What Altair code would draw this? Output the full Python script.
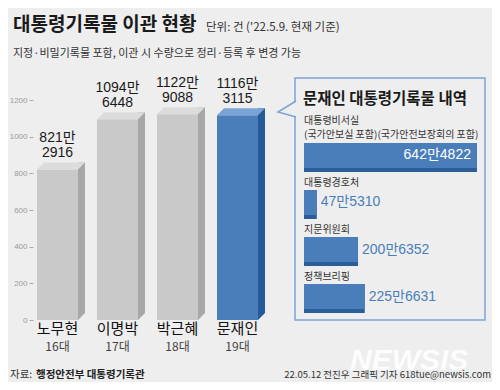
import altair as alt
import pandas as pd

# ---- data ----
presidents = ["노무현", "이명박", "박근혜", "문재인"]
terms = ["16대", "17대", "18대", "19대"]
records = [8212916, 10946448, 11229088, 11163115]

moon_cats = ["대통령비서실", "대통령경호처", "지문위원회", "정책브리핑"]
moon_cat_sub = ["(국가안보실 포함)(국가안전보장회의 포함)", "", "", ""]
moon_records = [6424822, 475310, 2006352, 2256631]

y_ticks = [0, 200, 400, 600, 800, 1000, 1200]

title_text = ["대통령기록물 이관 현황"]
unit_text = ["단위: 건 ('22.5.9. 현재 기준)"]
subtitle_text = ["지정·비밀기록물 포함, 이관 시 수량으로 정리·등록 후 변경 가능"]
panel_title = ["문재인 대통령기록물 내역"]
source_label = ["자료:"]
source_text = ["행정안전부 대통령기록관"]
credit_text = ["22.05.12 전진우 그래픽 기자 618tue@newsis.com"]
watermark_text = ["NEWSIS"]

# ---- styles ----
BG = "#eeeeee"
KR = "Noto Sans CJK KR"
NUM = "Liberation Sans, Noto Sans CJK KR"
GRAY_FRONT, GRAY_SIDE, GRAY_TOP = "#c9c9c9", "#a7a7a7", "#dcdcdc"
BLUE_FRONT, BLUE_SIDE, BLUE_TOP = "#4a7ebb", "#245a97", "#7aa4d6"
BOX_BLUE = "#7ba3d8"
HIGHLIGHT = presidents[3]

left = pd.DataFrame({
    "name": presidents,
    "term": terms,
    "man": [r / 10000 for r in records],
    "line1": [f"{r // 10000}만" for r in records],
    "line2": [f"{r % 10000}" for r in records],
})
right = pd.DataFrame({
    "cat": moon_cats,
    "sub": moon_cat_sub,
    "man": [r / 10000 for r in moon_records],
    "vlabel": [f"{r // 10000}만{r % 10000}" for r in moon_records],
})

def face(gray, blue):
    return alt.condition(alt.datum.name == HIGHLIGHT, alt.value(blue), alt.value(gray))

xl = alt.X("name:N", sort=presidents,
           scale=alt.Scale(domain=presidents, range=[29, 250], paddingInner=0.3167, paddingOuter=0),
           axis=None)
yl = alt.Y("man:Q", scale=alt.Scale(domain=[0, 1200], range=[312, 92]),
           axis=alt.Axis(values=y_ticks, format="d", offset=-25, domain=False, grid=False,
                         ticks=True, tickSize=4, tickColor="#aaaaaa", labelColor="#9a9a9a",
                         labelFont="Liberation Sans", labelFontSize=8,
                         labelPadding=2, title=None))

base_l = alt.Chart(left)
front = base_l.mark_bar().encode(x=xl, y=yl, color=face(GRAY_FRONT, BLUE_FRONT))
side = base_l.mark_bar(size=7, xOffset=24, yOffset=-7).encode(
    x=xl, y=yl, y2=alt.datum(0), color=face(GRAY_SIDE, BLUE_SIDE))
mask = base_l.mark_point(shape="M-1,1L1,1L1,-1Z", size=49, filled=True, opacity=1,
                         strokeWidth=0, color=BG, xOffset=24, yOffset=-3.5).encode(
    x=xl, y=alt.datum(0))
top = base_l.mark_point(shape="M-1,0.1458L0.7083,0.1458L1,-0.1458L-0.7083,-0.1458Z",
                        size=2304, filled=True, opacity=1, strokeWidth=0,
                        xOffset=3.5, yOffset=-3.5).encode(
    x=xl, y=yl, color=face(GRAY_TOP, BLUE_TOP))
val1 = base_l.mark_text(font=NUM, fontSize=14, baseline="alphabetic", dy=-27,
                        color="#1a1a1a").encode(x=xl, y=yl, text="line1:N")
val2 = base_l.mark_text(font=NUM, fontSize=14, baseline="alphabetic", dy=-12,
                        color="#1a1a1a").encode(x=xl, y=yl, text="line2:N")
names = base_l.mark_text(font=KR, fontSize=15, baseline="top", dy=2, color="#111111").encode(
    x=xl, y=alt.datum(0), text="name:N")
terms_t = base_l.mark_text(font=KR, fontSize=12, baseline="top", dy=22, color="#444444").encode(
    x=xl, y=alt.datum(0), text="term:N")
left_layer = alt.layer(front, side, mask, top, val1, val2, names, terms_t)

# ---- right panel ----
xr = alt.X("man:Q", scale=alt.Scale(domain=[0, 650], range=[296, 471]), axis=None)
yr_scale = alt.Scale(domain=moon_cats, range=[135, 305], paddingInner=0.383, paddingOuter=0)
yr = alt.Y("cat:N", sort=moon_cats, scale=yr_scale, axis=None)
yr0 = alt.Y("cat:N", sort=moon_cats, scale=yr_scale, axis=None, bandPosition=0)

base_r = alt.Chart(right)
dark = base_r.mark_bar(color="#2b5e98").encode(x=xr, y=yr)
light = base_r.mark_bar(color=BLUE_FRONT, size=25, yOffset=-2).encode(x=xr, y=yr)
inside = base_r.transform_filter(alt.datum.cat == moon_cats[0]).mark_text(
    align="right", dx=-6, yOffset=-2, baseline="middle", font=NUM, fontSize=14,
    color="white").encode(x=xr, y=yr, text="vlabel:N")
outside = base_r.transform_filter(alt.datum.cat != moon_cats[0]).mark_text(
    align="left", dx=4, yOffset=-2, baseline="middle", font=NUM, fontSize=14,
    color=BLUE_FRONT).encode(x=xr, y=yr, text="vlabel:N")
cat_main_first = base_r.transform_filter(alt.datum.sub != "").mark_text(
    align="left", baseline="alphabetic", dy=-19, font=KR, fontSize=10,
    color="#333333").encode(x=alt.datum(0), y=yr0, text="cat:N")
cat_main_rest = base_r.transform_filter(alt.datum.sub == "").mark_text(
    align="left", baseline="alphabetic", dy=-4, font=KR, fontSize=10,
    color="#333333").encode(x=alt.datum(0), y=yr0, text="cat:N")
cat_sub = base_r.transform_filter(alt.datum.sub != "").mark_text(
    align="left", baseline="alphabetic", dy=-5, font=KR, fontSize=10,
    color="#333333").encode(x=alt.datum(0), y=yr0, text="sub:N")
right_layer = alt.layer(dark, light, inside, outside, cat_main_first, cat_main_rest, cat_sub)

one = pd.DataFrame({"k": [0]})
box = alt.Chart(one).mark_rect(fill=BG, stroke=BOX_BLUE, strokeWidth=1.5).encode(
    x=alt.value(287), x2=alt.value(477), y=alt.value(70), y2=alt.value(312))
pointer = alt.Chart(one).mark_point(shape="M1,-0.889L-1,0.333L1,0.889", size=324,
                                    fill=BG, stroke=BOX_BLUE, strokeWidth=1.5,
                                    opacity=1, fillOpacity=1).encode(
    x=alt.value(279), y=alt.value(101))

def label(txt, x, y, size, weight="normal", color="#333333", align="left", font=KR, **kw):
    return alt.Chart(pd.DataFrame({"t": txt})).mark_text(
        align=align, baseline="alphabetic", font=font, fontSize=size,
        fontWeight=weight, color=color, **kw).encode(
        x=alt.value(x), y=alt.value(y), text="t:N")

header = [
    label(title_text, 5, 23, 19, "bold", "#1a1a1a"),
    label(unit_text, 198, 23, 11.5, color="#333333"),
    label(subtitle_text, 5, 49, 11, color="#333333"),
    label(panel_title, 295, 96, 15.5, "bold", "#1a1a1a"),
]
footer = [
    label(watermark_text, 342, 362, 30, "bold", "white", font="Liberation Sans",
          fontStyle="italic", opacity=0.9),
    label(source_label, 2, 370, 10.5, color="#333333"),
    label(source_text, 28, 370, 10.5, "bold", "#222222"),
    label(credit_text, 483, 370, 9.5, color="#333333", align="right"),
]

chart = alt.layer(box, pointer, left_layer, right_layer, *footer, *header).resolve_scale(
    x="independent", y="independent"
).properties(
    width=484, height=374, background=BG, padding=0,
    autosize=alt.AutoSizeParams(type="none"),
).configure_view(stroke=None)

chart.save("out.html", embed_options={"renderer": "svg", "actions": False})
